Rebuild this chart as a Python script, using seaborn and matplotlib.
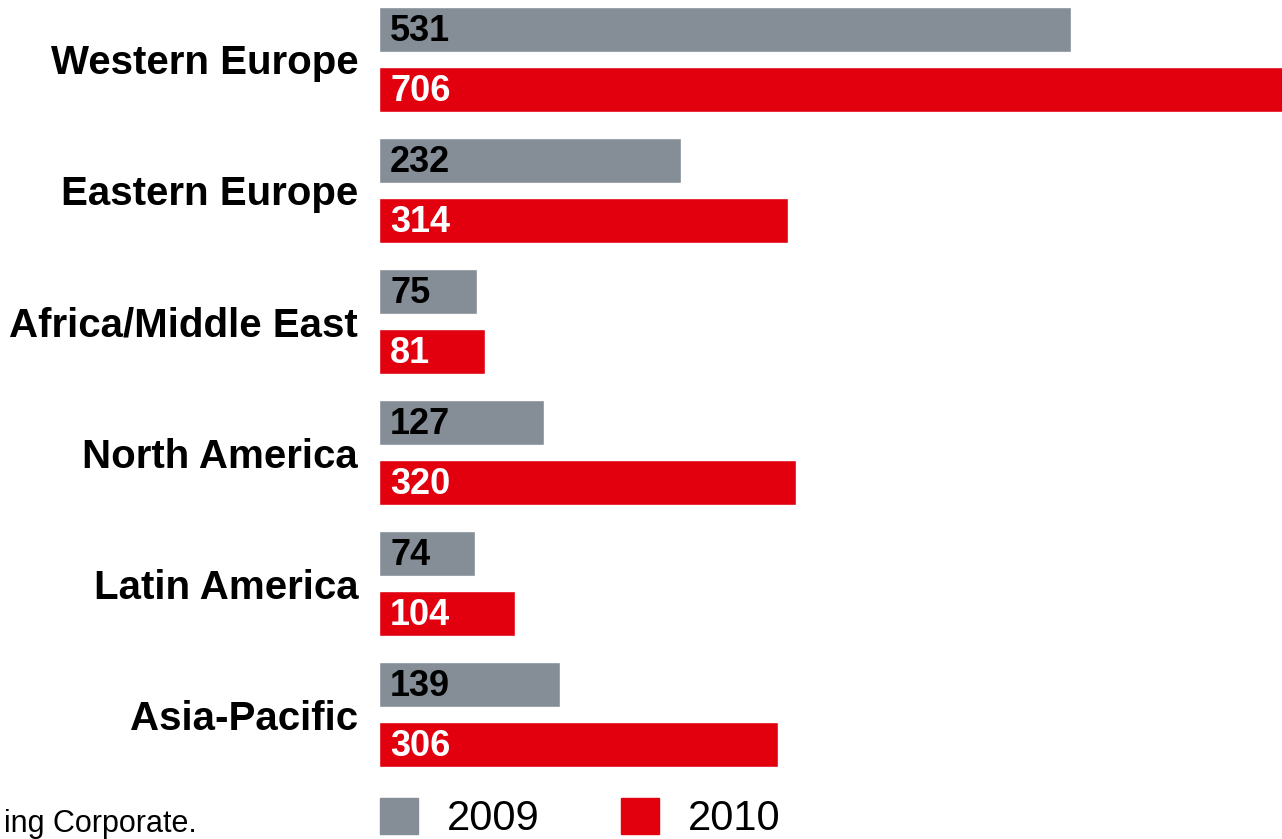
import matplotlib
matplotlib.use("Agg")
import matplotlib.pyplot as plt
import matplotlib.patches as mpatches
import seaborn as sns
import pandas as pd

# Data
regions = ["Western Europe", "Eastern Europe", "Africa/Middle East",
           "North America", "Latin America", "Asia-Pacific"]
values_2009 = [531, 232, 75, 127, 74, 139]
values_2010 = [706, 314, 81, 320, 104, 306]
years = ["2009", "2010"]
colors = {"2009": "#858E97", "2010": "#E2000F"}
label_colors = {"2009": "black", "2010": "white"}
footnote = "ing Corporate."

df = pd.DataFrame({
    "Region": regions * 2,
    "Year": [years[0]] * len(regions) + [years[1]] * len(regions),
    "Value": values_2009 + values_2010,
})

sns.set_style("white")
plt.rcParams["font.family"] = ["Liberation Sans", "DejaVu Sans"]
plt.rcParams["text.color"] = "black"

fig = plt.figure(figsize=(12.82, 8.39), dpi=100)
ax = fig.add_axes([379 / 1282, 0, 1 - 379 / 1282, 1])

sns.barplot(data=df, x="Value", y="Region", hue="Year", orient="h",
            palette=colors, width=0.916, gap=0.25, saturation=1,
            legend=False, ax=ax)

ax.set_xlim(0, 693)
ax.set_ylim(5.95, -0.454)
ax.set_xlabel("")
ax.set_ylabel("")
ax.set_xticks([])
ax.tick_params(axis="y", length=0, pad=15, labelsize=29, labelcolor="black")
for lbl in ax.get_yticklabels():
    lbl.set_fontweight("bold")
sns.despine(ax=ax, left=True, bottom=True, top=True, right=True)

# value labels inside bars, left aligned
for year, container in zip(years, ax.containers):
    for bar, val in zip(container, df.loc[df["Year"] == year, "Value"]):
        ax.annotate(f"{val}", xy=(0, bar.get_y() + bar.get_height() / 2),
                    xytext=(8, -1.5), textcoords="offset points",
                    ha="left", va="center", fontsize=26, fontweight="bold",
                    color=label_colors[year])

# legend
handles = [mpatches.Patch(color=colors[y], label=y) for y in years]
fig.legend(handles=handles, ncol=2, loc="lower left",
           bbox_to_anchor=(380 / 1282, 0.0), frameon=False, fontsize=30,
           handlelength=0.91, handleheight=0.94, handletextpad=0.7,
           columnspacing=1.94, borderpad=0, borderaxespad=0)

fig.text(197 / 1282, 1 - 832 / 839, footnote, ha="right", va="baseline",
         fontsize=22)

plt.savefig("out.png", dpi=100)
